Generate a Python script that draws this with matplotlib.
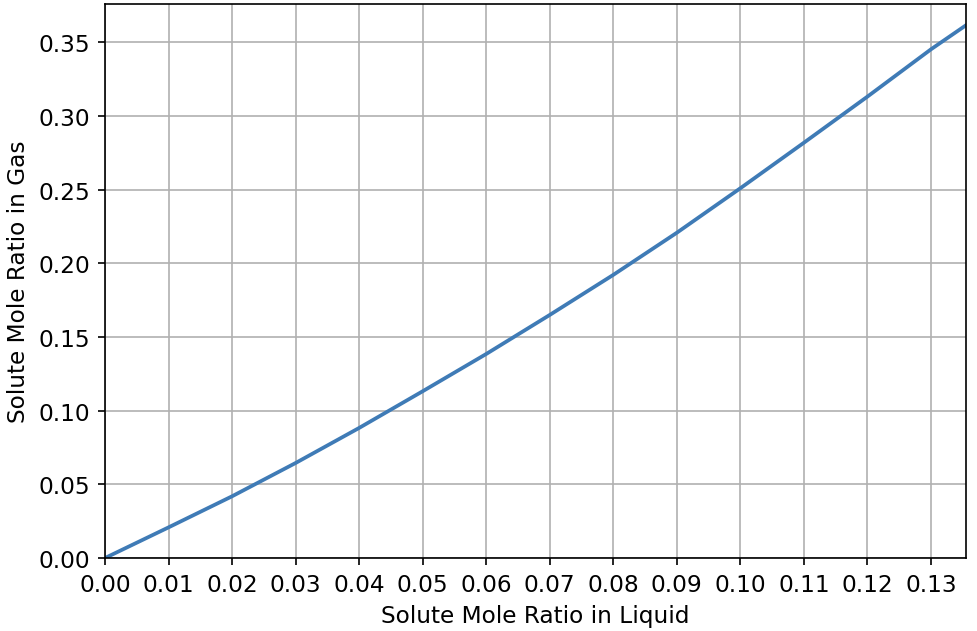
import matplotlib
matplotlib.use("Agg")
import matplotlib.pyplot as plt

# equilibrium curve
x_liquid = [0.000, 0.010, 0.020, 0.030, 0.040, 0.050, 0.060, 0.070,
            0.080, 0.090, 0.100, 0.110, 0.120, 0.130, 0.1355]
y_gas = [0.000, 0.0208, 0.0419, 0.0645, 0.0883, 0.1132, 0.1385, 0.1650,
         0.1922, 0.2208, 0.2510, 0.2819, 0.3132, 0.3453, 0.3616]

xticks = [0.00, 0.01, 0.02, 0.03, 0.04, 0.05, 0.06, 0.07, 0.08, 0.09,
          0.10, 0.11, 0.12, 0.13]
yticks = [0.00, 0.05, 0.10, 0.15, 0.20, 0.25, 0.30, 0.35]

plt.rcParams["font.size"] = 11.2

fig = plt.figure(figsize=(977 / 150, 632 / 150), dpi=150)
ax = fig.add_axes([0.1075, 0.1155, 0.8812, 0.8765])
ax.plot(x_liquid, y_gas, color="#3f7bb6", lw=1.8)
ax.set_xticks(xticks)
ax.set_yticks(yticks)
ax.set_xticklabels([f"{t:.2f}" for t in xticks])
ax.set_yticklabels([f"{t:.2f}" for t in yticks])
ax.set_xlim(0, x_liquid[-1])
ax.set_ylim(0, 0.376)
ax.grid(True)
ax.set_xlabel("Solute Mole Ratio in Liquid")
ax.set_ylabel("Solute Mole Ratio in Gas")
fig.savefig("out.png", dpi=150)
